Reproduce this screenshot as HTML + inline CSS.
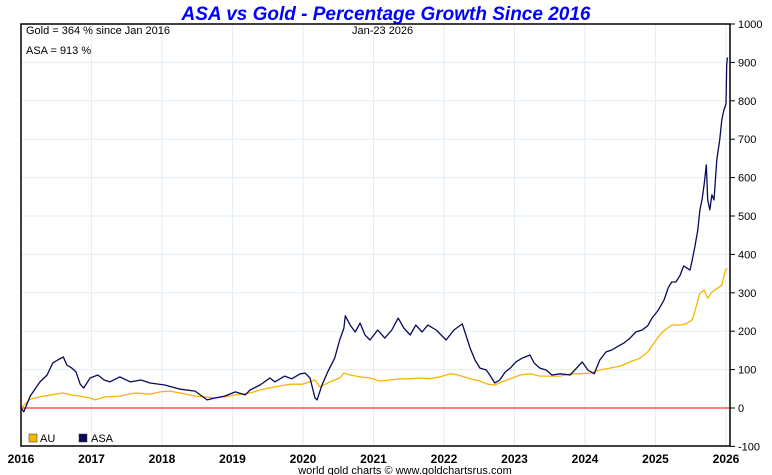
<!DOCTYPE html>
<html><head><meta charset="utf-8"><style>
body{margin:0;background:#fff;}
svg{display:block;font-family:"Liberation Sans",Arial,sans-serif;}
</style></head><body>
<svg id="chart" width="772" height="475" viewBox="0 0 772 475">
<text x="386" y="20" text-anchor="middle" font-size="19" font-weight="bold" font-style="italic" fill="#0000ff">ASA vs Gold - Percentage Growth Since 2016</text>
<g id="grid"></g>
<g id="series"></g>
<rect x="21" y="24" width="709" height="422" fill="none" stroke="#000" stroke-width="1.5"/>
<g id="axes"></g>
<text x="26" y="34" font-size="11" fill="#000">Gold = 364 % since Jan 2016</text>
<text x="352" y="34" font-size="11" fill="#000">Jan-23  2026</text>
<text x="26" y="54" font-size="11" fill="#000">ASA = 913 %</text>
<g>
<rect x="29" y="434" width="8" height="8" fill="#f8b400" stroke="#333" stroke-width="0.5"/>
<text x="40" y="442" font-size="11">AU</text>
<rect x="79" y="434" width="8" height="8" fill="#0a0a5a" stroke="#333" stroke-width="0.5"/>
<text x="91" y="442" font-size="11">ASA</text>
</g>
<text x="405" y="474" text-anchor="middle" font-size="11" fill="#000">world gold charts © www.goldchartsrus.com</text>
</svg>
<script>
const yearTicks=[2016,2017,2018,2019,2020,2021,2022,2023,2024,2025,2026];
const valueTicks=[-100,0,100,200,300,400,500,600,700,800,900,1000];
const asaDates=[2016.00,2016.04,2016.13,2016.27,2016.37,2016.45,2016.52,2016.60,2016.65,2016.72,2016.78,2016.84,2016.89,2016.98,2017.09,2017.18,2017.26,2017.40,2017.55,2017.70,2017.83,2018.04,2018.26,2018.47,2018.64,2018.75,2018.89,2019.04,2019.18,2019.25,2019.39,2019.53,2019.60,2019.74,2019.84,2019.96,2020.03,2020.10,2020.17,2020.20,2020.27,2020.35,2020.45,2020.52,2020.58,2020.60,2020.67,2020.74,2020.81,2020.88,2020.95,2021.06,2021.16,2021.26,2021.35,2021.43,2021.52,2021.60,2021.69,2021.77,2021.89,2022.03,2022.14,2022.26,2022.31,2022.37,2022.44,2022.51,2022.60,2022.65,2022.72,2022.79,2022.87,2022.94,2023.02,2023.11,2023.22,2023.28,2023.36,2023.45,2023.53,2023.65,2023.79,2023.96,2024.04,2024.13,2024.21,2024.30,2024.38,2024.47,2024.55,2024.64,2024.72,2024.81,2024.89,2024.95,2025.04,2025.12,2025.18,2025.23,2025.29,2025.35,2025.40,2025.49,2025.52,2025.56,2025.60,2025.63,2025.66,2025.69,2025.72,2025.74,2025.77,2025.80,2025.83,2025.86,2025.87,2025.91,2025.94,2025.97,2026.00,2026.01,2026.02];
const asaValues=[0,-10,31,68,86,117,125,133,112,104,94,62,52,78,86,73,68,81,68,73,65,60,49,44,21,26,31,42,34,47,60,78,68,83,76,89,91,78,26,21,60,94,130,177,208,240,216,198,221,190,177,203,182,203,234,208,190,216,198,216,203,177,203,219,190,156,125,104,99,86,65,73,94,104,120,130,138,117,104,99,86,89,86,120,99,89,125,146,151,161,169,182,198,203,214,234,255,281,313,328,328,346,370,359,385,422,464,516,542,581,633,542,516,555,542,620,646,698,750,776,792,893,913];
const goldDates=[2016.00,2016.13,2016.27,2016.48,2016.60,2016.70,2016.84,2016.98,2017.05,2017.19,2017.40,2017.62,2017.83,2017.97,2018.11,2018.26,2018.47,2018.61,2018.75,2018.89,2019.04,2019.25,2019.39,2019.60,2019.82,2019.99,2020.17,2020.24,2020.38,2020.52,2020.58,2020.67,2020.81,2020.95,2021.09,2021.23,2021.38,2021.52,2021.66,2021.80,2021.94,2022.09,2022.20,2022.37,2022.51,2022.62,2022.72,2022.82,2022.94,2023.08,2023.22,2023.36,2023.50,2023.65,2023.79,2023.93,2024.07,2024.21,2024.35,2024.50,2024.64,2024.78,2024.89,2024.99,2025.06,2025.13,2025.23,2025.35,2025.43,2025.52,2025.57,2025.63,2025.69,2025.74,2025.80,2025.89,2025.94,2025.99,2026.02];
const goldValues=[0,23,29,36,39,34,31,26,21,29,31,39,36,42,44,39,31,29,26,29,34,39,47,55,62,62,73,55,68,78,91,86,81,78,70,73,76,76,78,76,81,89,86,76,70,62,60,68,76,86,89,83,83,83,89,89,91,99,104,109,120,130,146,172,190,203,216,216,219,229,260,299,307,286,302,313,320,359,364];

const NS='http://www.w3.org/2000/svg';
const X0=21,PXY=70.5,Y0=408,PXV=0.384;
function xScale(yr){return X0+(yr-2016)*PXY;}
function yScale(v){return Y0-v*PXV;}
const grid=document.getElementById('grid'),axes=document.getElementById('axes'),series=document.getElementById('series');
function mk(tag,attrs,parent){const e=document.createElementNS(NS,tag);for(const k in attrs)e.setAttribute(k,attrs[k]);parent.appendChild(e);return e;}
valueTicks.forEach(v=>{
  const y=yScale(v);
  if(v!==0&&v!==1000&&v!==-100){const l=mk('line',{x1:21,x2:730,y1:y,y2:y,stroke:'#e3eef8','stroke-width':1},grid);
  
  }
  const t=mk('line',{x1:730,x2:735,y1:y,y2:y,stroke:'#000'},axes);
  
  
  const tx=mk('text',{x:738,y:y+4,'font-size':11},axes);tx.textContent=v;
  
  
});
yearTicks.forEach(yr=>{
  const x=xScale(yr);
  if(yr!==2016){const l=mk('line',{x1:x,x2:x,y1:24,y2:446,stroke:'#e3eef8','stroke-width':1},grid);
  
  }
  const tx=mk('text',{x:x,y:463,'font-size':12,'font-weight':'bold','text-anchor':'middle'},axes);tx.textContent=yr;
  
  
});
const zl=mk('line',{x1:21,x2:730,y1:yScale(0),y2:yScale(0),stroke:'#ff0000','stroke-width':1},series);


function path(d,v,color,name){
  const pts=d.map((yr,i)=>xScale(yr).toFixed(1)+','+yScale(v[i]).toFixed(1)).join(' ');
  const p=mk('polyline',{points:pts,fill:'none',stroke:color,'stroke-width':1.3,'stroke-linejoin':'round'},series);
  
  
}
path(goldDates,goldValues,'#f8b400','gold-line');
path(asaDates,asaValues,'#0a0a5a','asa-line');
</script>
</body></html>
